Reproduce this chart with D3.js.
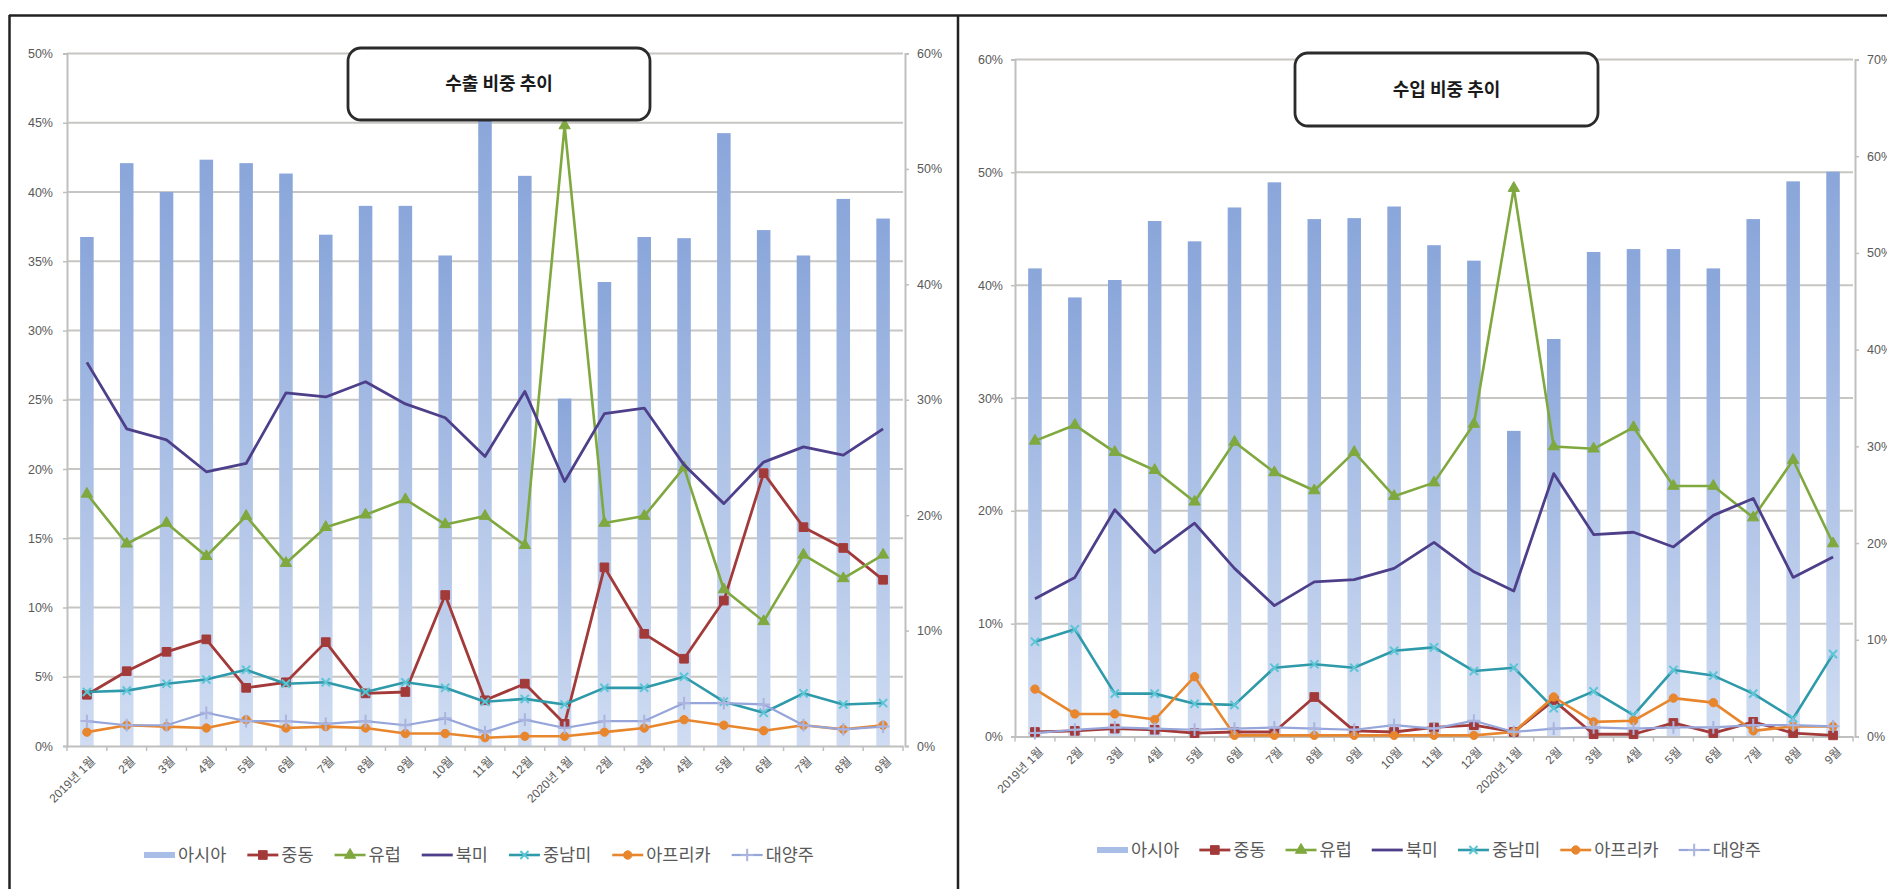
<!DOCTYPE html>
<html><head><meta charset="utf-8">
<script src="https://cdn.jsdelivr.net/npm/d3@7"></script>
<style>html,body{margin:0;padding:0;background:#fff;overflow:hidden}</style>
</head><body>
<svg id="c" width="1887" height="889" xmlns="http://www.w3.org/2000/svg"></svg>
<script>
// ---------- DATA ----------
const categories = ["2019년 1월","2월","3월","4월","5월","6월","7월","8월","9월","10월","11월","12월",
                    "2020년 1월","2월","3월","4월","5월","6월","7월","8월","9월"];
const seriesNames = ["아시아","중동","유럽","북미","중남미","아프리카","대양주"];
const exportTitle = "수출 비중 추이";
const importTitle = "수입 비중 추이";

// 수출 (export) shares, %
const exportAsia   = [44.1,50.5,48.0,50.8,50.5,49.6,44.3,46.8,46.8,42.5,54.7,49.4,30.1,40.2,44.1,44.0,53.1,44.7,42.5,47.4,45.7];
const exportMidEast= [3.7,5.4,6.8,7.7,4.2,4.6,7.5,3.8,3.9,10.9,3.3,4.5,1.6,12.9,8.1,6.3,10.5,19.7,15.8,14.3,12.0];
const exportEurope = [18.2,14.6,16.1,13.7,16.6,13.2,15.8,16.7,17.8,16.0,16.6,14.5,44.8,16.1,16.6,20.1,11.3,9.0,13.8,12.1,13.8];
const exportNAm    = [27.7,22.9,22.1,19.8,20.4,25.5,25.2,26.3,24.7,23.7,20.9,25.6,19.1,24.0,24.4,20.3,17.5,20.5,21.6,21.0,22.9];
const exportLatAm  = [3.9,4.0,4.5,4.8,5.5,4.5,4.6,3.9,4.6,4.2,3.2,3.4,3.0,4.2,4.2,5.0,3.2,2.4,3.8,3.0,3.1];
const exportAfrica = [1.0,1.5,1.4,1.3,1.9,1.3,1.4,1.3,0.9,0.9,0.6,0.7,0.7,1.0,1.3,1.9,1.5,1.1,1.5,1.2,1.5];
const exportOceania= [1.8,1.5,1.5,2.4,1.8,1.8,1.6,1.8,1.5,2.0,1.0,1.9,1.3,1.8,1.8,3.1,3.1,3.0,1.5,1.2,1.4];

// 수입 (import) shares, %
const importAsia   = [48.4,45.4,47.2,53.3,51.2,54.7,57.3,53.5,53.6,54.8,50.8,49.2,31.6,41.1,50.1,50.4,50.4,48.4,53.5,57.4,58.4];
const importMidEast= [0.4,0.5,0.7,0.6,0.3,0.4,0.4,3.5,0.5,0.4,0.8,1.0,0.4,3.2,0.2,0.2,1.2,0.3,1.3,0.3,0.1];
const importEurope = [26.2,27.6,25.2,23.6,20.8,26.1,23.4,21.8,25.2,21.3,22.5,27.7,48.6,25.7,25.5,27.4,22.2,22.2,19.4,24.5,17.1];
const importNAm    = [12.2,14.1,20.1,16.3,18.9,14.9,11.6,13.7,13.9,14.9,17.2,14.6,12.9,23.3,17.9,18.1,16.8,19.6,21.1,14.1,15.9];
const importLatAm  = [8.4,9.5,3.8,3.8,2.9,2.8,6.1,6.4,6.1,7.6,7.9,5.8,6.1,2.5,4.0,1.9,5.9,5.4,3.8,1.6,7.3];
const importAfrica = [4.2,2.0,2.0,1.5,5.3,0.1,0.1,0.1,0.1,0.1,0.1,0.1,0.4,3.5,1.3,1.4,3.4,3.0,0.5,0.9,0.9];
const importOceania= [0.3,0.6,0.8,0.7,0.6,0.7,0.8,0.7,0.6,1.0,0.7,1.4,0.4,0.7,0.8,0.7,0.8,0.8,1.0,1.0,0.9];

// axis ticks
const exportLeftTicks  = [0,5,10,15,20,25,30,35,40,45,50];
const exportRightTicks = [0,10,20,30,40,50,60];
const importLeftTicks  = [0,10,20,30,40,50,60];
const importRightTicks = [0,10,20,30,40,50,60,70];

// ---------- STYLE ----------
const lineStyles = [
  {name:"중동",    color:"#A33A3A", sym:"square",   mcolor:"#A33A3A", w:2.8},
  {name:"유럽",    color:"#7FA83E", sym:"triangle", mcolor:"#7FA83E", w:2.6},
  {name:"북미",    color:"#4E3F8A", sym:"none",     mcolor:"#4E3F8A", w:2.8},
  {name:"중남미",  color:"#2F9AAA", sym:"times",    mcolor:"#5CC6D6", w:2.6},
  {name:"아프리카",color:"#E8862E", sym:"circle",   mcolor:"#E8862E", w:2.6},
  {name:"대양주",  color:"#96A6DA", sym:"plus",     mcolor:"#AAB4DE", w:2.2}
];
const NUMFONT = "'Liberation Sans', Arial, 'Noto Sans CJK KR', sans-serif";
const KRFONT = "'Noto Sans CJK KR', 'Liberation Sans', sans-serif";

const svg = d3.select("#c");
const defs = svg.append("defs");
const grad = defs.append("linearGradient").attr("id","barGrad").attr("x1",0).attr("y1",0).attr("x2",0).attr("y2",1);
grad.append("stop").attr("offset","0%").attr("stop-color","#8AA6DA");
grad.append("stop").attr("offset","100%").attr("stop-color","#CFDCF2");

function symbolPath(sym){
  if (sym==="square") return d3.symbol().type(d3.symbolSquare).size(75)();
  if (sym==="triangle") return d3.symbol().type(d3.symbolTriangle).size(55)();
  if (sym==="circle") return d3.symbol().type(d3.symbolCircle).size(55)();
  if (sym==="times") return d3.symbol().type(d3.symbolTimes || d3.symbolCross).size(45)();
  if (sym==="plus") return d3.symbol().type(d3.symbolPlus || d3.symbolCross).size(55)();
  return null;
}
function drawMarker(sel, st){
  const p = symbolPath(st.sym);
  if (!p) return;
  const stroked = (st.sym==="times"||st.sym==="plus");
  sel.append("path").attr("d",p)
    .attr("fill", stroked ? "none" : st.mcolor)
    .attr("stroke", st.mcolor).attr("stroke-width", stroked ? 2 : 1);
}

function panel(o){
  const g = svg.append("g");
  const x = d3.scaleBand().domain(d3.range(categories.length)).range([o.x0,o.x1]).padding(0);
  const yL = d3.scaleLinear().domain([0,o.leftMax]).range([o.yBot,o.yTop]);
  const yR = d3.scaleLinear().domain([0,o.rightMax]).range([o.yBot,o.yTop]);
  const cx = i => x(i) + x.bandwidth()/2;

  // gridlines
  g.append("g").selectAll("line").data(o.leftTicks.filter(d=>d>0)).enter().append("line")
    .attr("x1",o.x0).attr("x2",o.x1).attr("y1",d=>yL(d)).attr("y2",d=>yL(d))
    .attr("stroke","#C8C6C2").attr("stroke-width",2);

  // bars
  const bw = x.bandwidth()*0.34;
  g.append("g").selectAll("rect").data(o.bars).enter().append("rect")
    .attr("x",(d,i)=>cx(i)-bw/2).attr("y",d=>yR(d)).attr("width",bw)
    .attr("height",d=>o.yBot-yR(d)).attr("fill","url(#barGrad)");

  // left axis
  const gl = g.append("g").attr("transform",`translate(${o.x0},0)`)
    .call(d3.axisLeft(yL).tickValues(o.leftTicks).tickFormat(d=>d+"%").tickSize(4).tickPadding(o.lPad));
  // right axis
  const gr = g.append("g").attr("transform",`translate(${o.x1+2},0)`)
    .call(d3.axisRight(yR).tickValues(o.rightTicks).tickFormat(d=>d+"%").tickSize(4).tickPadding(o.rPad));
  // x axis
  const gx = g.append("g").attr("transform",`translate(0,${o.yBot})`)
    .call(d3.axisBottom(x).tickFormat(i=>categories[i]).tickSize(0).tickPadding(0));
  gx.selectAll(".tick text").attr("text-anchor","end").attr("dy","0.35em").attr("y",0)
    .attr("transform","translate(6,13) rotate(-45)");
  // boundary tick marks
  g.append("g").selectAll("line").data(d3.range(categories.length+1)).enter().append("line")
    .attr("x1",i=>o.x0 + i*x.step()).attr("x2",i=>o.x0 + i*x.step())
    .attr("y1",o.yBot).attr("y2",o.yBot+5).attr("stroke","#BFBFBF").attr("stroke-width",1.5);

  [gl,gr,gx].forEach(a=>{
    a.selectAll(".domain").attr("stroke","#BFBFBF").attr("stroke-width",2);
    a.selectAll(".tick line").attr("stroke","#BFBFBF").attr("stroke-width",1.5);
    a.selectAll("text").attr("fill","#595959").style("font-family",NUMFONT).style("font-size","12.5px");
  });
  gx.selectAll("text").style("font-size","12px");

  // lines
  const line = d3.line().x((d,i)=>cx(i)).y(d=>yL(d));
  o.lines.forEach((vals,k)=>{
    const st = lineStyles[k];
    const lg = g.append("g");
    lg.append("path").datum(vals).attr("d",line).attr("fill","none")
      .attr("stroke",st.color).attr("stroke-width",st.w).attr("stroke-linejoin","round");
    if (st.sym!=="none"){
      lg.selectAll("g.m").data(vals).enter().append("g")
        .attr("transform",(d,i)=>`translate(${cx(i)},${yL(d)})`)
        .each(function(){ drawMarker(d3.select(this), st); });
    }
  });

  // title box
  const b = o.box;
  g.append("rect").attr("x",b.x).attr("y",b.y).attr("width",b.w).attr("height",b.h)
    .attr("rx",13).attr("ry",13).attr("fill","#fff").attr("stroke","#2b2b2b").attr("stroke-width",2.8);
  g.append("text").attr("x",b.x+b.w/2).attr("y",b.y+b.h/2).attr("dy","0.36em")
    .attr("text-anchor","middle").style("font-family",KRFONT).style("font-weight","700")
    .style("font-size","18px").attr("fill","#1a1a1a").text(o.title);

  // legend
  const lgd = g.append("g");
  const items = [];
  seriesNames.forEach((nm,k)=>{
    const it = lgd.append("g");
    const sw = 31;
    if (k===0){
      it.append("line").attr("x1",0).attr("x2",sw).attr("y1",0).attr("y2",0)
        .attr("stroke","#A9BEE6").attr("stroke-width",6);
    } else {
      const st = lineStyles[k-1];
      it.append("line").attr("x1",0).attr("x2",sw).attr("y1",0).attr("y2",0)
        .attr("stroke",st.color).attr("stroke-width",st.w);
      const mg = it.append("g").attr("transform",`translate(${sw/2},0)`);
      drawMarker(mg, st);
    }
    const t = it.append("text").attr("x",sw+3).attr("y",0).attr("dy","0.36em")
      .style("font-family",KRFONT).style("font-size","17.5px").attr("fill","#595959").text(nm);
    const w = sw + 3 + t.node().getComputedTextLength();
    items.push({it, w});
  });
  const gap = o.legendGap;
  const total = d3.sum(items, d=>d.w) + gap*(items.length-1);
  let xx = o.legendCx - total/2;
  items.forEach(d=>{ d.it.attr("transform",`translate(${xx},${o.legendY})`); xx += d.w + gap; });
}

panel({
  x0:67, x1:903, yTop:53.5, yBot:746,
  leftMax:50, rightMax:60, leftTicks:exportLeftTicks, rightTicks:exportRightTicks,
  lPad:10, rPad:8,
  bars: exportAsia,
  lines:[exportMidEast, exportEurope, exportNAm, exportLatAm, exportAfrica, exportOceania],
  box:{x:348,y:48,w:302,h:72}, title: exportTitle,
  legendCx:479, legendY:855, legendGap:21
});
panel({
  x0:1015, x1:1853, yTop:59.5, yBot:736.5,
  leftMax:60, rightMax:70, leftTicks:importLeftTicks, rightTicks:importRightTicks,
  lPad:8, rPad:8,
  bars: importAsia,
  lines:[importMidEast, importEurope, importNAm, importLatAm, importAfrica, importOceania],
  box:{x:1295,y:53,w:303,h:73}, title: importTitle,
  legendCx:1429, legendY:850, legendGap:20
});

// frame lines
svg.append("line").attr("x1",9).attr("x2",1887).attr("y1",15.5).attr("y2",15.5).attr("stroke","#222").attr("stroke-width",2.5);
svg.append("line").attr("x1",9.5).attr("x2",9.5).attr("y1",15).attr("y2",889).attr("stroke","#222").attr("stroke-width",2.5);
svg.append("line").attr("x1",958).attr("x2",958).attr("y1",15).attr("y2",889).attr("stroke","#222").attr("stroke-width",2.5);
</script>
</body></html>
